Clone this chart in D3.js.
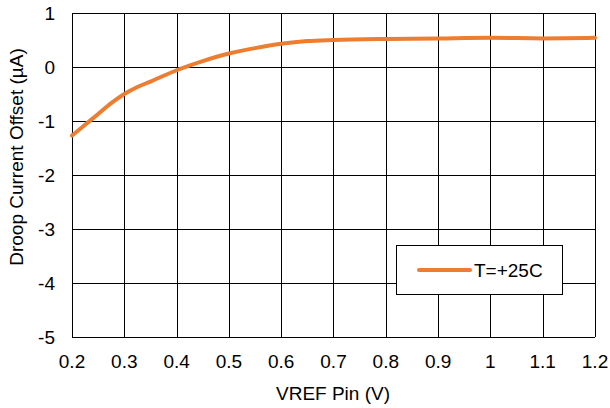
<!DOCTYPE html>
<html>
<head>
<meta charset="utf-8">
<script src="https://cdn.jsdelivr.net/npm/d3@7"></script>
<style>
  body { margin: 0; background: #fff; }
  text { font-family: "Liberation Sans", Arial, sans-serif; fill: #000; }
</style>
</head>
<body>
<svg width="610" height="408"></svg>
<script>
// data
var vref = [0.2, 0.225, 0.25, 0.275, 0.3, 0.325, 0.35, 0.4, 0.45, 0.5, 0.55, 0.6, 0.65, 0.7, 0.8, 0.9, 1.0, 1.1, 1.2]
var offset = [-1.27, -1.07, -0.87, -0.67, -0.5, -0.37, -0.27, -0.06, 0.11, 0.25, 0.35, 0.43, 0.48, 0.5, 0.52, 0.53, 0.54, 0.53, 0.54]
var xTicks = [0.2, 0.3, 0.4, 0.5, 0.6, 0.7, 0.8, 0.9, 1.0, 1.1, 1.2]
var yTicks = [1, 0, -1, -2, -3, -4, -5]
var seriesName = "T=+25C"

var dimensions = {
    width: 610, height: 408,
    margin: { top: 13, right: 15, bottom: 71, left: 72 }
}

var svg = d3.select("svg")
var x = d3.scaleLinear().domain([0.2, 1.2]).range([dimensions.margin.left, dimensions.width - dimensions.margin.right])
var y = d3.scaleLinear().domain([-5, 1]).range([dimensions.height - dimensions.margin.bottom, dimensions.margin.top])

// grid
svg.append("g").selectAll("line").data(xTicks).enter().append("line")
    .attr("x1", d => Math.round(x(d)) + 0.5).attr("x2", d => Math.round(x(d)) + 0.5)
    .attr("y1", y(1)).attr("y2", y(-5))
    .attr("stroke", "#000").attr("stroke-width", 1)
svg.append("g").selectAll("line").data(yTicks).enter().append("line")
    .attr("y1", d => Math.round(y(d)) + 0.5).attr("y2", d => Math.round(y(d)) + 0.5)
    .attr("x1", x(0.2)).attr("x2", x(1.2))
    .attr("stroke", "#000").attr("stroke-width", 1)

// tick labels
svg.append("g").selectAll("text").data(xTicks).enter().append("text")
    .attr("x", d => x(d)).attr("y", 368)
    .attr("text-anchor", "middle").attr("font-size", 19)
    .text(d => d3.format("")(+d.toFixed(1)))
svg.append("g").selectAll("text").data(yTicks).enter().append("text")
    .attr("x", 55).attr("y", d => y(d) + 7)
    .attr("text-anchor", "end").attr("font-size", 19)
    .text(d => d)

// axis titles
svg.append("text").attr("x", 333).attr("y", 400)
    .attr("text-anchor", "middle").attr("font-size", 19).text("VREF Pin (V)")
svg.append("text").attr("transform", "translate(23,157) rotate(-90)")
    .attr("text-anchor", "middle").attr("font-size", 19).text("Droop Current Offset (µA)")

// curve
var line = d3.line().x((d, i) => x(vref[i])).y(d => y(d)).curve(d3.curveMonotoneX)
svg.append("path").attr("d", line(offset))
    .attr("fill", "none").attr("stroke", "#ED7D31").attr("stroke-width", 4)
    .attr("stroke-linecap", "round")

// legend
var legend = svg.append("g")
legend.append("rect").attr("x", 396.5).attr("y", 245.5).attr("width", 166).attr("height", 49)
    .attr("fill", "#fff").attr("stroke", "#000").attr("stroke-width", 1)
legend.append("line").attr("x1", 419).attr("x2", 470).attr("y1", 270).attr("y2", 270)
    .attr("stroke", "#ED7D31").attr("stroke-width", 4).attr("stroke-linecap", "round")
legend.append("text").attr("x", 474).attr("y", 277).attr("font-size", 19).text(seriesName)
</script>
</body>
</html>
